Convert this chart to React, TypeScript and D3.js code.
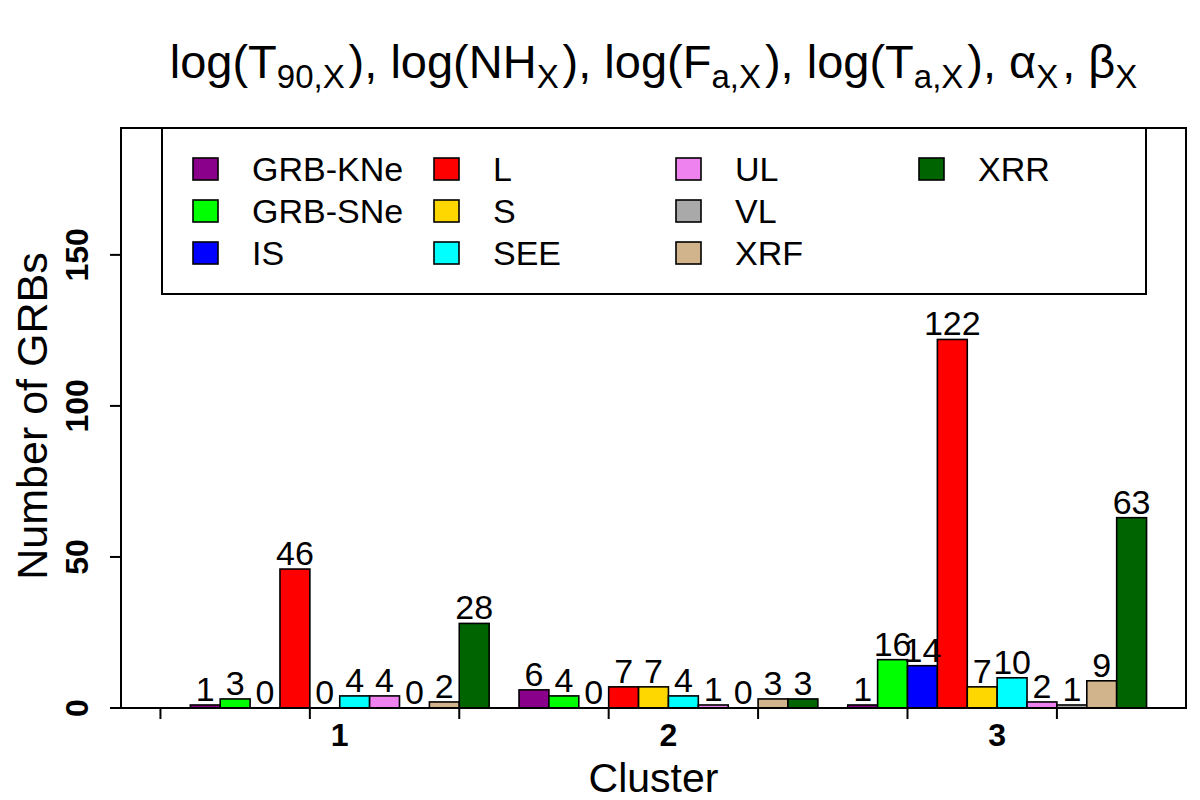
import React from "react";
import * as d3 from "d3";

const clusters = ["1", "2", "3"];
const seriesNames = ["GRB-KNe", "GRB-SNe", "IS", "L", "S", "SEE", "UL", "VL", "XRF", "XRR"];
const seriesColors = ["#8B008B", "#00FF00", "#0000FF", "#FF0000", "#FFD700", "#00FFFF", "#EE82EE", "#A9A9A9", "#D2B48C", "#006400"];
const cluster1 = [1, 3, 0, 46, 0, 4, 4, 0, 2, 28];
const cluster2 = [6, 4, 0, 7, 7, 4, 1, 0, 3, 3];
const cluster3 = [1, 16, 14, 122, 7, 10, 2, 1, 9, 63];
const yTicks = [0, 50, 100, 150];
const xTicks = [0, 5, 10, 15, 20, 25, 30];

const W = 1200;
const H = 800;
const FONT = "'Liberation Sans', Arial, Helvetica, sans-serif";

export default function App() {
  React.useEffect(() => {
    document.body.style.margin = "0";
  }, []);

  const values = [cluster1, cluster2, cluster3];
  const nS = seriesNames.length;
  const x = d3.scaleLinear().domain([-1.32, 34.32]).range([121, 1186]);
  const y = d3.scaleLinear().domain([0, 192]).range([708, 128]);
  const [x0, x1] = x.range();
  const [yb, yt] = y.range();

  const bars: { x: number; w: number; y: number; h: number; v: number; c: string }[] = [];
  values.forEach((vals, g) => {
    vals.forEach((v, s) => {
      const l = 1 + g * (nS + 1) + s;
      bars.push({
        x: x(l),
        w: x(l + 1) - x(l),
        y: y(v),
        h: y(0) - y(v),
        v,
        c: seriesColors[s],
      });
    });
  });

  const groupCenters = clusters.map((_, g) => x(1 + g * (nS + 1) + nS / 2));

  const legendCols = [193, 434, 676, 919];
  const legendRows = [169, 211, 253];

  const sub = (t: string, key: string) => [
    <tspan key={key + "a"} dy={10} fontSize={33}>{t}</tspan>,
    <tspan key={key + "b"} dy={-10}>{"\u200A"}</tspan>,
  ];

  return (
    <div style={{ position: "absolute", left: 0, top: 0 }}>
      <svg width={W} height={H} style={{ display: "block", background: "#fff" }} fontFamily={FONT}>
        <rect x={0} y={0} width={W} height={H} fill="#fff" />
        {/* title */}
        <text x={(x0 + x1) / 2 + 2} y={78} textAnchor="middle" fontSize={47} fill="#000">
          <tspan>log(T</tspan>
          {sub("90,X", "t1")}
          <tspan>), log(NH</tspan>
          {sub("X", "t2")}
          <tspan>), log(F</tspan>
          {sub("a,X", "t3")}
          <tspan>), log(T</tspan>
          {sub("a,X", "t4")}
          <tspan>), α</tspan>
          {sub("X", "t5")}
          <tspan>, β</tspan>
          {sub("X", "t6")}
        </text>

        {/* bars */}
        {bars.map((b, i) => (
          <rect key={"b" + i} x={b.x} y={b.y} width={b.w} height={b.h} fill={b.c} stroke="#000" strokeWidth={1.6} />
        ))}
        {bars.map((b, i) => (
          <text key={"v" + i} x={b.x + b.w / 2} y={b.y - 4} textAnchor="middle" fontSize={34} fill="#000">
            {b.v}
          </text>
        ))}

        {/* box */}
        <rect x={x0} y={yt} width={x1 - x0} height={yb - yt} fill="none" stroke="#000" strokeWidth={2} />

        {/* y axis */}
        {yTicks.map((t) => (
          <g key={"yt" + t}>
            <line x1={x0} x2={x0 - 11} y1={y(t)} y2={y(t)} stroke="#000" strokeWidth={2} />
            <text transform={`translate(88,${y(t)}) rotate(-90)`} textAnchor="middle" fontSize={32} fontWeight="bold" fill="#000">
              {t}
            </text>
          </g>
        ))}
        <text transform={`translate(47,${(yb + yt) / 2 - 2}) rotate(-90)`} textAnchor="middle" fontSize={43} fill="#000">
          Number of GRBs
        </text>

        {/* x axis */}
        {xTicks.map((t) => (
          <line key={"xt" + t} x1={x(t)} x2={x(t)} y1={yb} y2={yb + 11} stroke="#000" strokeWidth={2} />
        ))}
        {clusters.map((c, g) => (
          <text key={"c" + c} x={groupCenters[g]} y={746} textAnchor="middle" fontSize={32} fontWeight="bold" fill="#000">
            {c}
          </text>
        ))}
        <text x={(x0 + x1) / 2} y={792} textAnchor="middle" fontSize={41} fill="#000">
          Cluster
        </text>

        {/* legend */}
        <rect x={162} y={128} width={984} height={166} fill="#fff" stroke="#000" strokeWidth={2} />
        {seriesNames.map((n, i) => {
          const col = Math.floor(i / 3);
          const row = i % 3;
          const lx = legendCols[col];
          const ly = legendRows[row];
          return (
            <g key={"lg" + n}>
              <rect x={lx} y={ly - 11} width={25} height={22} fill={seriesColors[i]} stroke="#000" strokeWidth={1.6} />
              <text x={lx + 59} y={ly + 12} fontSize={34} fill="#000">
                {n}
              </text>
            </g>
          );
        })}
      </svg>
    </div>
  );
}
